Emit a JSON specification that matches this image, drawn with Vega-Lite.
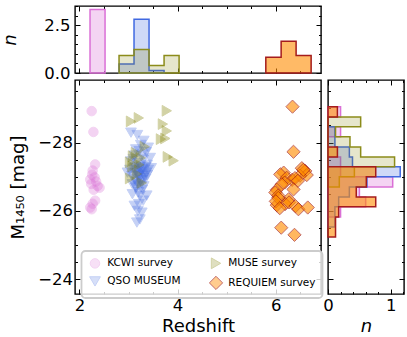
{
  "$schema": "https://vega.github.io/schema/vega-lite/v6.json",
  "background": "white",
  "padding": {"left": 1, "top": 4, "right": 4, "bottom": 4},
  "datasets": {
    "scatter": [
      {"survey": "KCWI survey", "z": 2.25, "M": -28.92},
      {"survey": "KCWI survey", "z": 2.285, "M": -28.31},
      {"survey": "KCWI survey", "z": 2.32, "M": -27.36},
      {"survey": "KCWI survey", "z": 2.27, "M": -27.18},
      {"survey": "KCWI survey", "z": 2.26, "M": -27.06},
      {"survey": "KCWI survey", "z": 2.31, "M": -26.98},
      {"survey": "KCWI survey", "z": 2.22, "M": -26.92},
      {"survey": "KCWI survey", "z": 2.34, "M": -26.86},
      {"survey": "KCWI survey", "z": 2.24, "M": -26.79},
      {"survey": "KCWI survey", "z": 2.37, "M": -26.73},
      {"survey": "KCWI survey", "z": 2.41, "M": -26.68},
      {"survey": "KCWI survey", "z": 2.29, "M": -26.62},
      {"survey": "KCWI survey", "z": 2.32, "M": -26.30},
      {"survey": "KCWI survey", "z": 2.27, "M": -26.21},
      {"survey": "KCWI survey", "z": 2.22, "M": -26.10},
      {"survey": "KCWI survey", "z": 2.25, "M": -26.05},
      {"survey": "QSO MUSEUM", "z": 3.05, "M": -28.29},
      {"survey": "QSO MUSEUM", "z": 3.18, "M": -28.22},
      {"survey": "QSO MUSEUM", "z": 3.31, "M": -28.05},
      {"survey": "QSO MUSEUM", "z": 3.25, "M": -27.93},
      {"survey": "QSO MUSEUM", "z": 3.40, "M": -27.85},
      {"survey": "QSO MUSEUM", "z": 3.36, "M": -27.72},
      {"survey": "QSO MUSEUM", "z": 3.15, "M": -27.80},
      {"survey": "QSO MUSEUM", "z": 3.28, "M": -27.65},
      {"survey": "QSO MUSEUM", "z": 3.22, "M": -27.75},
      {"survey": "QSO MUSEUM", "z": 3.12, "M": -27.62},
      {"survey": "QSO MUSEUM", "z": 3.44, "M": -27.55},
      {"survey": "QSO MUSEUM", "z": 3.30, "M": -27.50},
      {"survey": "QSO MUSEUM", "z": 3.05, "M": -27.45},
      {"survey": "QSO MUSEUM", "z": 3.18, "M": -27.40},
      {"survey": "QSO MUSEUM", "z": 3.38, "M": -27.35},
      {"survey": "QSO MUSEUM", "z": 3.25, "M": -27.32},
      {"survey": "QSO MUSEUM", "z": 3.10, "M": -27.52},
      {"survey": "QSO MUSEUM", "z": 3.46, "M": -27.25},
      {"survey": "QSO MUSEUM", "z": 3.40, "M": -27.20},
      {"survey": "QSO MUSEUM", "z": 3.34, "M": -27.28},
      {"survey": "QSO MUSEUM", "z": 3.28, "M": -27.22},
      {"survey": "QSO MUSEUM", "z": 3.22, "M": -27.26},
      {"survey": "QSO MUSEUM", "z": 3.16, "M": -27.18},
      {"survey": "QSO MUSEUM", "z": 3.10, "M": -27.24},
      {"survey": "QSO MUSEUM", "z": 3.03, "M": -27.20},
      {"survey": "QSO MUSEUM", "z": 3.36, "M": -27.12},
      {"survey": "QSO MUSEUM", "z": 3.30, "M": -27.08},
      {"survey": "QSO MUSEUM", "z": 3.24, "M": -27.14},
      {"survey": "QSO MUSEUM", "z": 3.19, "M": -27.05},
      {"survey": "QSO MUSEUM", "z": 3.13, "M": -27.10},
      {"survey": "QSO MUSEUM", "z": 3.07, "M": -27.02},
      {"survey": "QSO MUSEUM", "z": 3.27, "M": -27.17},
      {"survey": "QSO MUSEUM", "z": 3.21, "M": -27.03},
      {"survey": "QSO MUSEUM", "z": 3.32, "M": -27.02},
      {"survey": "QSO MUSEUM", "z": 3.15, "M": -27.27},
      {"survey": "QSO MUSEUM", "z": 3.38, "M": -27.05},
      {"survey": "QSO MUSEUM", "z": 2.98, "M": -27.12},
      {"survey": "QSO MUSEUM", "z": 3.35, "M": -26.95},
      {"survey": "QSO MUSEUM", "z": 3.29, "M": -26.90},
      {"survey": "QSO MUSEUM", "z": 3.22, "M": -26.97},
      {"survey": "QSO MUSEUM", "z": 3.17, "M": -26.85},
      {"survey": "QSO MUSEUM", "z": 3.12, "M": -26.92},
      {"survey": "QSO MUSEUM", "z": 3.26, "M": -26.80},
      {"survey": "QSO MUSEUM", "z": 3.20, "M": -26.75},
      {"survey": "QSO MUSEUM", "z": 3.31, "M": -26.72},
      {"survey": "QSO MUSEUM", "z": 3.08, "M": -26.78},
      {"survey": "QSO MUSEUM", "z": 3.14, "M": -26.72},
      {"survey": "QSO MUSEUM", "z": 3.24, "M": -26.88},
      {"survey": "QSO MUSEUM", "z": 3.37, "M": -26.45},
      {"survey": "QSO MUSEUM", "z": 3.28, "M": -26.62},
      {"survey": "QSO MUSEUM", "z": 3.20, "M": -26.55},
      {"survey": "QSO MUSEUM", "z": 3.15, "M": -26.68},
      {"survey": "QSO MUSEUM", "z": 3.08, "M": -26.49},
      {"survey": "QSO MUSEUM", "z": 3.23, "M": -26.44},
      {"survey": "QSO MUSEUM", "z": 3.21, "M": -26.20},
      {"survey": "QSO MUSEUM", "z": 3.12, "M": -26.15},
      {"survey": "QSO MUSEUM", "z": 3.30, "M": -26.30},
      {"survey": "QSO MUSEUM", "z": 3.27, "M": -25.95},
      {"survey": "QSO MUSEUM", "z": 3.19, "M": -26.00},
      {"survey": "QSO MUSEUM", "z": 3.17, "M": -25.66},
      {"survey": "QSO MUSEUM", "z": 3.23, "M": -25.75},
      {"survey": "MUSE survey", "z": 3.05, "M": -28.62},
      {"survey": "MUSE survey", "z": 3.21, "M": -28.72},
      {"survey": "MUSE survey", "z": 3.78, "M": -28.93},
      {"survey": "MUSE survey", "z": 3.70, "M": -28.54},
      {"survey": "MUSE survey", "z": 3.78, "M": -28.34},
      {"survey": "MUSE survey", "z": 3.66, "M": -28.10},
      {"survey": "MUSE survey", "z": 3.75, "M": -28.12},
      {"survey": "MUSE survey", "z": 3.80, "M": -27.58},
      {"survey": "MUSE survey", "z": 3.92, "M": -27.47},
      {"survey": "MUSE survey", "z": 3.33, "M": -27.88},
      {"survey": "MUSE survey", "z": 3.15, "M": -27.70},
      {"survey": "MUSE survey", "z": 3.03, "M": -27.42},
      {"survey": "MUSE survey", "z": 3.08, "M": -27.30},
      {"survey": "MUSE survey", "z": 3.03, "M": -26.95},
      {"survey": "MUSE survey", "z": 3.27, "M": -26.82},
      {"survey": "MUSE survey", "z": 3.17, "M": -27.08},
      {"survey": "MUSE survey", "z": 3.09, "M": -27.60},
      {"survey": "MUSE survey", "z": 3.22, "M": -27.35},
      {"survey": "MUSE survey", "z": 3.25, "M": -27.55},
      {"survey": "REQUIEM survey", "z": 6.34, "M": -29.05},
      {"survey": "REQUIEM survey", "z": 6.36, "M": -27.73},
      {"survey": "REQUIEM survey", "z": 6.53, "M": -27.25},
      {"survey": "REQUIEM survey", "z": 6.60, "M": -27.17},
      {"survey": "REQUIEM survey", "z": 6.63, "M": -27.05},
      {"survey": "REQUIEM survey", "z": 6.16, "M": -27.12},
      {"survey": "REQUIEM survey", "z": 6.09, "M": -27.07},
      {"survey": "REQUIEM survey", "z": 6.49, "M": -27.03},
      {"survey": "REQUIEM survey", "z": 6.56, "M": -27.20},
      {"survey": "REQUIEM survey", "z": 6.22, "M": -26.97},
      {"survey": "REQUIEM survey", "z": 6.33, "M": -26.91},
      {"survey": "REQUIEM survey", "z": 6.18, "M": -26.83},
      {"survey": "REQUIEM survey", "z": 6.39, "M": -26.96},
      {"survey": "REQUIEM survey", "z": 6.12, "M": -26.78},
      {"survey": "REQUIEM survey", "z": 6.45, "M": -26.88},
      {"survey": "REQUIEM survey", "z": 6.36, "M": -26.63},
      {"survey": "REQUIEM survey", "z": 6.02, "M": -26.62},
      {"survey": "REQUIEM survey", "z": 5.99, "M": -26.54},
      {"survey": "REQUIEM survey", "z": 6.05, "M": -26.45},
      {"survey": "REQUIEM survey", "z": 6.26, "M": -26.34},
      {"survey": "REQUIEM survey", "z": 6.19, "M": -26.20},
      {"survey": "REQUIEM survey", "z": 6.02, "M": -26.17},
      {"survey": "REQUIEM survey", "z": 6.05, "M": -26.38},
      {"survey": "REQUIEM survey", "z": 6.27, "M": -26.25},
      {"survey": "REQUIEM survey", "z": 6.40, "M": -26.14},
      {"survey": "REQUIEM survey", "z": 6.00, "M": -26.28},
      {"survey": "REQUIEM survey", "z": 6.08, "M": -26.08},
      {"survey": "REQUIEM survey", "z": 6.46, "M": -26.05},
      {"survey": "REQUIEM survey", "z": 6.65, "M": -26.10},
      {"survey": "REQUIEM survey", "z": 6.11, "M": -25.51},
      {"survey": "REQUIEM survey", "z": 6.38, "M": -25.30}
    ],
    "tophist": [
      {"survey": "KCWI survey", "z0": 2.216, "z1": 2.522, "n": 3.34},
      {"survey": "QSO MUSEUM", "z0": 2.807, "z1": 3.112, "n": 0.475},
      {"survey": "QSO MUSEUM", "z0": 3.112, "z1": 3.418, "n": 2.82},
      {"survey": "QSO MUSEUM", "z0": 3.418, "z1": 3.724, "n": 0.127},
      {"survey": "MUSE survey", "z0": 2.807, "z1": 3.112, "n": 0.92},
      {"survey": "MUSE survey", "z0": 3.112, "z1": 3.418, "n": 1.23},
      {"survey": "MUSE survey", "z0": 3.418, "z1": 3.724, "n": 0.39},
      {"survey": "MUSE survey", "z0": 3.724, "z1": 4.03, "n": 0.92},
      {"survey": "REQUIEM survey", "z0": 5.796, "z1": 6.108, "n": 0.83},
      {"survey": "REQUIEM survey", "z0": 6.108, "z1": 6.413, "n": 1.67},
      {"survey": "REQUIEM survey", "z0": 6.413, "z1": 6.719, "n": 0.92}
    ],
    "righthist": [
      {"survey": "KCWI survey", "m0": -29.05, "m1": -28.75, "n": 0.2},
      {"survey": "KCWI survey", "m0": -28.75, "m1": -28.46, "n": 0},
      {"survey": "KCWI survey", "m0": -28.46, "m1": -28.17, "n": 0.2},
      {"survey": "KCWI survey", "m0": -28.17, "m1": -27.87, "n": 0},
      {"survey": "KCWI survey", "m0": -27.87, "m1": -27.58, "n": 0},
      {"survey": "KCWI survey", "m0": -27.58, "m1": -27.29, "n": 0.2},
      {"survey": "KCWI survey", "m0": -27.29, "m1": -27.00, "n": 0.2},
      {"survey": "KCWI survey", "m0": -27.00, "m1": -26.70, "n": 1.03},
      {"survey": "KCWI survey", "m0": -26.70, "m1": -26.41, "n": 0.5},
      {"survey": "KCWI survey", "m0": -26.41, "m1": -26.12, "n": 0.6},
      {"survey": "KCWI survey", "m0": -26.12, "m1": -25.82, "n": 0.2},
      {"survey": "QSO MUSEUM", "m0": -28.46, "m1": -28.17, "n": 0.11},
      {"survey": "QSO MUSEUM", "m0": -28.17, "m1": -27.87, "n": 0.11},
      {"survey": "QSO MUSEUM", "m0": -27.87, "m1": -27.58, "n": 0.34},
      {"survey": "QSO MUSEUM", "m0": -27.58, "m1": -27.29, "n": 0.39},
      {"survey": "QSO MUSEUM", "m0": -27.29, "m1": -27.00, "n": 1.15},
      {"survey": "QSO MUSEUM", "m0": -27.00, "m1": -26.70, "n": 0.62},
      {"survey": "QSO MUSEUM", "m0": -26.70, "m1": -26.41, "n": 0.34},
      {"survey": "QSO MUSEUM", "m0": -26.41, "m1": -26.12, "n": 0.17},
      {"survey": "QSO MUSEUM", "m0": -26.12, "m1": -25.82, "n": 0.11},
      {"survey": "QSO MUSEUM", "m0": -25.82, "m1": -25.53, "n": 0.11},
      {"survey": "MUSE survey", "m0": -28.75, "m1": -28.46, "n": 0.52},
      {"survey": "MUSE survey", "m0": -28.46, "m1": -28.17, "n": 0.12},
      {"survey": "MUSE survey", "m0": -28.17, "m1": -27.87, "n": 0.35},
      {"survey": "MUSE survey", "m0": -27.87, "m1": -27.58, "n": 0.52},
      {"survey": "MUSE survey", "m0": -27.58, "m1": -27.29, "n": 1.06},
      {"survey": "MUSE survey", "m0": -27.29, "m1": -27.00, "n": 0.42},
      {"survey": "MUSE survey", "m0": -27.00, "m1": -26.70, "n": 0.18},
      {"survey": "REQUIEM survey", "m0": -29.05, "m1": -28.75, "n": 0.15},
      {"survey": "REQUIEM survey", "m0": -28.75, "m1": -28.46, "n": 0},
      {"survey": "REQUIEM survey", "m0": -28.46, "m1": -28.17, "n": 0},
      {"survey": "REQUIEM survey", "m0": -28.17, "m1": -27.87, "n": 0},
      {"survey": "REQUIEM survey", "m0": -27.87, "m1": -27.58, "n": 0.15},
      {"survey": "REQUIEM survey", "m0": -27.58, "m1": -27.29, "n": 0},
      {"survey": "REQUIEM survey", "m0": -27.29, "m1": -27.00, "n": 0.76},
      {"survey": "REQUIEM survey", "m0": -27.00, "m1": -26.70, "n": 0.61},
      {"survey": "REQUIEM survey", "m0": -26.70, "m1": -26.41, "n": 0.45},
      {"survey": "REQUIEM survey", "m0": -26.41, "m1": -26.12, "n": 0.76},
      {"survey": "REQUIEM survey", "m0": -26.12, "m1": -25.82, "n": 0.17},
      {"survey": "REQUIEM survey", "m0": -25.82, "m1": -25.53, "n": 0.12},
      {"survey": "REQUIEM survey", "m0": -25.53, "m1": -25.24, "n": 0.12}
    ]
  },
  "columns": 2,
  "align": "each",
  "bounds": "flush",
  "spacing": {"row": 7, "column": 7},
  "resolve": {
    "scale": {"fill": "independent", "stroke": "independent", "shape": "independent", "size": "independent", "opacity": "independent"},
    "legend": {"fill": "independent", "stroke": "independent", "shape": "independent", "size": "independent", "opacity": "independent"}
  },
  "concat": [
    {
      "width": 246,
      "height": 67,
      "data": {"name": "tophist"},
      "transform": [{"fold": ["z0", "z1"], "as": ["edgekey", "edge"]}],
      "layer": [
        {
          "transform": [{"filter": "datum.survey == 'KCWI survey'"}],
          "mark": {"type": "area", "fill": "orchid", "fillOpacity": 0.3, "stroke": "orchid", "strokeWidth": 1.5},
          "encoding": {
            "x": {"field": "edge", "type": "quantitative", "scale": {"domain": [1.91, 6.92], "nice": false, "zero": false},
              "axis": {"orient": "bottom", "values": [2, 2.5, 3, 3.5, 4, 4.5, 5, 5.5, 6, 6.5], "labels": false, "title": null,
                "tickSize": {"condition": {"test": "datum.value % 2 == 0", "value": -5}, "value": -2.5}}},
            "y": {"field": "n", "type": "quantitative", "stack": null, "scale": {"domain": [0, 3.52], "nice": false},
              "axis": {"orient": "left", "values": [0, 0.5, 1, 1.5, 2, 2.5, 3, 3.5],
                "labelExpr": "datum.value % 2.5 == 0 ? format(datum.value, '.1f') : ''",
                "labelFontSize": {"condition": {"test": "datum.value % 2.5 == 0", "value": 16.5}, "value": 0},
                "tickSize": {"condition": {"test": "datum.value % 2.5 == 0", "value": -5}, "value": -2.5},
                "labelPadding": 10, "title": "n", "titleFontStyle": "italic", "titlePadding": 24}}
          }
        },
        {
          "transform": [{"filter": "datum.survey == 'QSO MUSEUM'"}],
          "mark": {"type": "area", "fill": "royalblue", "fillOpacity": 0.25, "stroke": "royalblue", "strokeWidth": 1.5},
          "encoding": {
            "x": {"field": "edge", "type": "quantitative", "scale": {"domain": [1.91, 6.92], "nice": false, "zero": false}, "axis": null},
            "y": {"field": "n", "type": "quantitative", "stack": null, "scale": {"domain": [0, 3.52], "nice": false}, "axis": null}
          }
        },
        {
          "transform": [{"filter": "datum.survey == 'MUSE survey'"}],
          "mark": {"type": "area", "fill": "olive", "fillOpacity": 0.2, "stroke": "#8c8c1a", "strokeWidth": 1.5},
          "encoding": {
            "x": {"field": "edge", "type": "quantitative", "scale": {"domain": [1.91, 6.92], "nice": false, "zero": false}, "axis": null},
            "y": {"field": "n", "type": "quantitative", "stack": null, "scale": {"domain": [0, 3.52], "nice": false}, "axis": null}
          }
        },
        {
          "transform": [{"filter": "datum.survey == 'REQUIEM survey'"}],
          "mark": {"type": "area", "fill": "darkorange", "fillOpacity": 0.6, "stroke": "#a51c1c", "strokeWidth": 1.5},
          "encoding": {
            "x": {"field": "edge", "type": "quantitative", "scale": {"domain": [1.91, 6.92], "nice": false, "zero": false}, "axis": null},
            "y": {"field": "n", "type": "quantitative", "stack": null, "scale": {"domain": [0, 3.52], "nice": false}, "axis": null}
          }
        },
        {
          "mark": {"type": "point", "opacity": 0},
          "encoding": {
            "x": {"field": "edge", "type": "quantitative", "scale": {"domain": [1.91, 6.92], "nice": false, "zero": false},
              "axis": {"orient": "top", "values": [2, 2.5, 3, 3.5, 4, 4.5, 5, 5.5, 6, 6.5], "labels": false, "title": null,
                "tickSize": {"condition": {"test": "datum.value % 2 == 0", "value": -5}, "value": -2.5}}},
            "y": {"field": "n", "type": "quantitative", "scale": {"domain": [0, 3.52], "nice": false},
              "axis": {"orient": "right", "values": [0, 0.5, 1, 1.5, 2, 2.5, 3, 3.5], "labels": false, "title": null,
                "tickSize": {"condition": {"test": "datum.value % 2.5 == 0", "value": -5}, "value": -2.5}}}
          }
        }
      ],
      "resolve": {"axis": {"x": "independent", "y": "independent"}}
    },
    {
      "width": 76,
      "height": 67,
      "data": {"values": [{"a": 0}]},
      "mark": {"type": "point", "opacity": 0},
      "encoding": {},
      "view": {"stroke": null}
    },
    {
      "width": 246,
      "height": 214,
      "data": {"name": "scatter"},
      "layer": [
        {
          "mark": {"type": "point", "filled": true, "strokeWidth": 1},
          "encoding": {
            "x": {"field": "z", "type": "quantitative", "scale": {"domain": [1.91, 6.92], "nice": false, "zero": false},
              "axis": {"orient": "bottom", "values": [2, 2.5, 3, 3.5, 4, 4.5, 5, 5.5, 6, 6.5],
                "labelExpr": "datum.value % 2 == 0 ? format(datum.value, 'd') : ''",
                "labelFontSize": {"condition": {"test": "datum.value % 2 == 0", "value": 16.5}, "value": 0},
                "tickSize": {"condition": {"test": "datum.value % 2 == 0", "value": -5}, "value": -2.5},
                "labelPadding": 8, "title": "Redshift", "titlePadding": 4}},
            "y": {"field": "M", "type": "quantitative", "scale": {"domain": [-29.83, -23.57], "nice": false, "zero": false, "reverse": true},
              "axis": {"orient": "left", "values": [-29.5, -29, -28.5, -28, -27.5, -27, -26.5, -26, -25.5, -25, -24.5, -24],
                "labelExpr": "datum.value % 2 == 0 ? format(datum.value, 'd') : ''",
                "labelFontSize": {"condition": {"test": "datum.value % 2 == 0", "value": 16.5}, "value": 0},
                "tickSize": {"condition": {"test": "datum.value % 2 == 0", "value": -5}, "value": -2.5},
                "labelPadding": 7.5, "title": "M₁₄₅₀ [mag]", "titlePadding": 10}},
            "fill": {"field": "survey", "type": "nominal",
              "scale": {"domain": ["KCWI survey", "QSO MUSEUM", "MUSE survey", "REQUIEM survey"], "range": ["orchid", "royalblue", "olive", "darkorange"]},
              "legend": {"orient": "none", "legendX": 6.5, "legendY": 171, "columns": 2, "title": null,
                "labelFont": "DejaVu Sans", "labelFontSize": 10.5, "labelColor": "black",
                "padding": 6, "rowPadding": 2.4, "columnPadding": 25, "labelOffset": 4.7,
                "fillColor": "rgba(255,255,255,0.8)", "strokeColor": "#cccccc", "cornerRadius": 4, "symbolStrokeWidth": 1}},
            "stroke": {"field": "survey", "type": "nominal",
              "scale": {"domain": ["KCWI survey", "QSO MUSEUM", "MUSE survey", "REQUIEM survey"], "range": ["orchid", "royalblue", "olive", "#9e1010"]}},
            "shape": {"field": "survey", "type": "nominal",
              "scale": {"domain": ["KCWI survey", "QSO MUSEUM", "MUSE survey", "REQUIEM survey"], "range": ["circle", "triangle-down", "triangle-right", "diamond"]}},
            "size": {"field": "survey", "type": "nominal",
              "scale": {"type": "ordinal", "domain": ["KCWI survey", "QSO MUSEUM", "MUSE survey", "REQUIEM survey"], "range": [90, 115, 115, 175]}},
            "opacity": {"field": "survey", "type": "nominal",
              "scale": {"type": "ordinal", "domain": ["KCWI survey", "QSO MUSEUM", "MUSE survey", "REQUIEM survey"], "range": [0.3, 0.3, 0.35, 0.62]}}
          }
        },
        {
          "mark": {"type": "point", "opacity": 0},
          "encoding": {
            "x": {"field": "z", "type": "quantitative", "scale": {"domain": [1.91, 6.92], "nice": false, "zero": false},
              "axis": {"orient": "top", "values": [2, 2.5, 3, 3.5, 4, 4.5, 5, 5.5, 6, 6.5], "labels": false, "title": null,
                "tickSize": {"condition": {"test": "datum.value % 2 == 0", "value": -5}, "value": -2.5}}},
            "y": {"field": "M", "type": "quantitative", "scale": {"domain": [-29.83, -23.57], "nice": false, "zero": false, "reverse": true},
              "axis": {"orient": "right", "values": [-29.5, -29, -28.5, -28, -27.5, -27, -26.5, -26, -25.5, -25, -24.5, -24], "labels": false, "title": null,
                "tickSize": {"condition": {"test": "datum.value % 2 == 0", "value": -5}, "value": -2.5}}}
          }
        }
      ],
      "resolve": {"axis": {"x": "independent", "y": "independent"}}
    },
    {
      "width": 76,
      "height": 214,
      "data": {"name": "righthist"},
      "transform": [{"fold": ["m0", "m1"], "as": ["edgekey", "edge"]}],
      "layer": [
        {
          "transform": [{"filter": "datum.survey == 'KCWI survey'"}],
          "mark": {"type": "area", "orient": "horizontal", "fill": "orchid", "fillOpacity": 0.3, "stroke": "orchid", "strokeWidth": 1.5},
          "encoding": {
            "y": {"field": "edge", "type": "quantitative", "scale": {"domain": [-29.83, -23.57], "nice": false, "zero": false, "reverse": true},
              "axis": {"orient": "left", "values": [-29.5, -29, -28.5, -28, -27.5, -27, -26.5, -26, -25.5, -25, -24.5, -24], "labels": false, "title": null,
                "tickSize": {"condition": {"test": "datum.value % 2 == 0", "value": -5}, "value": -2.5}}},
            "x": {"field": "n", "type": "quantitative", "stack": null, "scale": {"domain": [0, 1.21], "nice": false},
              "axis": {"orient": "bottom", "values": [0, 0.2, 0.4, 0.6, 0.8, 1, 1.2],
                "labelExpr": "datum.value % 1 == 0 ? format(datum.value, 'd') : ''",
                "labelFontSize": {"condition": {"test": "datum.value % 1 == 0", "value": 16.5}, "value": 0},
                "tickSize": {"condition": {"test": "datum.value % 1 == 0", "value": -5}, "value": -2.5},
                "labelPadding": 8, "title": "n", "titleFontStyle": "italic", "titlePadding": 4}}
          }
        },
        {
          "transform": [{"filter": "datum.survey == 'QSO MUSEUM'"}],
          "mark": {"type": "area", "orient": "horizontal", "fill": "royalblue", "fillOpacity": 0.25, "stroke": "royalblue", "strokeWidth": 1.5},
          "encoding": {
            "y": {"field": "edge", "type": "quantitative", "scale": {"domain": [-29.83, -23.57], "nice": false, "zero": false, "reverse": true}, "axis": null},
            "x": {"field": "n", "type": "quantitative", "stack": null, "scale": {"domain": [0, 1.21], "nice": false}, "axis": null}
          }
        },
        {
          "transform": [{"filter": "datum.survey == 'MUSE survey'"}],
          "mark": {"type": "area", "orient": "horizontal", "fill": "olive", "fillOpacity": 0.2, "stroke": "#8c8c1a", "strokeWidth": 1.5},
          "encoding": {
            "y": {"field": "edge", "type": "quantitative", "scale": {"domain": [-29.83, -23.57], "nice": false, "zero": false, "reverse": true}, "axis": null},
            "x": {"field": "n", "type": "quantitative", "stack": null, "scale": {"domain": [0, 1.21], "nice": false}, "axis": null}
          }
        },
        {
          "transform": [{"filter": "datum.survey == 'REQUIEM survey'"}],
          "mark": {"type": "area", "orient": "horizontal", "fill": "darkorange", "fillOpacity": 0.6, "stroke": "#a51c1c", "strokeWidth": 1.5},
          "encoding": {
            "y": {"field": "edge", "type": "quantitative", "scale": {"domain": [-29.83, -23.57], "nice": false, "zero": false, "reverse": true}, "axis": null},
            "x": {"field": "n", "type": "quantitative", "stack": null, "scale": {"domain": [0, 1.21], "nice": false}, "axis": null}
          }
        },
        {
          "mark": {"type": "point", "opacity": 0},
          "encoding": {
            "y": {"field": "edge", "type": "quantitative", "scale": {"domain": [-29.83, -23.57], "nice": false, "zero": false, "reverse": true},
              "axis": {"orient": "right", "values": [-29.5, -29, -28.5, -28, -27.5, -27, -26.5, -26, -25.5, -25, -24.5, -24], "labels": false, "title": null,
                "tickSize": {"condition": {"test": "datum.value % 2 == 0", "value": -5}, "value": -2.5}}},
            "x": {"field": "n", "type": "quantitative", "scale": {"domain": [0, 1.21], "nice": false},
              "axis": {"orient": "top", "values": [0, 0.2, 0.4, 0.6, 0.8, 1, 1.2], "labels": false, "title": null,
                "tickSize": {"condition": {"test": "datum.value % 1 == 0", "value": -5}, "value": -2.5}}}
          }
        }
      ],
      "resolve": {"axis": {"x": "independent", "y": "independent"}}
    }
  ],
  "config": {
    "font": "DejaVu Sans",
    "view": {"stroke": "black", "strokeWidth": 1.4},
    "axis": {"grid": false, "domain": false, "labelFont": "DejaVu Sans", "labelFontSize": 16.5, "labelColor": "black",
      "titleFont": "DejaVu Sans", "titleFontSize": 18, "titleFontWeight": "normal", "titleColor": "black",
      "tickColor": "black", "tickWidth": 1, "labelFlush": false, "labelOverlap": false, "labelBound": false},
    "legend": {"strokeWidth": 1.8}
  }
}
